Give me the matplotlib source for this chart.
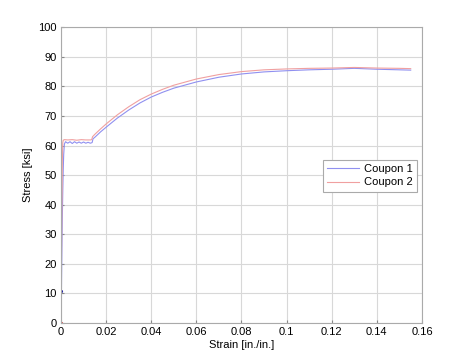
import matplotlib
matplotlib.use("Agg")
import matplotlib.pyplot as plt

# Coupon 1 (blue) strain / stress
strain_1 = [0.0, 0.0002, 0.0004, 0.0006, 0.0008, 0.0010, 0.0012, 0.0015, 0.0020,
            0.0030, 0.0040, 0.0050, 0.0060, 0.0070, 0.0080, 0.0090, 0.0100,
            0.0110, 0.0120, 0.0130, 0.0138, 0.0142, 0.0150, 0.0175, 0.0200,
            0.0250, 0.0300, 0.0350, 0.0400, 0.0450, 0.0500, 0.0600, 0.0700,
            0.0800, 0.0900, 0.1000, 0.1100, 0.1200, 0.1300, 0.1400, 0.1500, 0.1550]
stress_1 = [0.0, 11.0, 25.0, 36.0, 45.0, 52.0, 57.0, 60.5, 61.3,
            60.8, 61.3, 60.7, 61.3, 60.8, 61.2, 60.8, 61.2,
            60.8, 61.1, 60.8, 61.0, 62.3, 62.8, 64.6, 66.2,
            69.3, 72.0, 74.4, 76.4, 78.0, 79.4, 81.5, 83.1,
            84.2, 84.9, 85.3, 85.6, 85.8, 86.1, 85.8, 85.6, 85.5]

# Coupon 2 (red) strain / stress
strain_2 = [0.0, 0.0001, 0.0002, 0.0004, 0.0006, 0.0008, 0.0010, 0.0015, 0.0030,
            0.0050, 0.0070, 0.0090, 0.0110, 0.0130, 0.0136, 0.0140, 0.0150,
            0.0175, 0.0200, 0.0250, 0.0300, 0.0350, 0.0400, 0.0450, 0.0500,
            0.0600, 0.0700, 0.0800, 0.0900, 0.1000, 0.1100, 0.1200, 0.1300,
            0.1400, 0.1500, 0.1550]
stress_2 = [0.0, 6.0, 20.0, 40.0, 55.0, 61.0, 61.8, 62.0, 61.9,
            62.0, 61.8, 62.0, 61.9, 61.9, 62.0, 63.0, 63.8,
            65.6, 67.3, 70.4, 73.1, 75.5, 77.4, 79.0, 80.4,
            82.5, 84.0, 85.0, 85.6, 85.9, 86.1, 86.2, 86.4,
            86.2, 86.1, 86.0]

x_ticks = [0, 0.02, 0.04, 0.06, 0.08, 0.1, 0.12, 0.14, 0.16]
x_labels = ["0", "0.02", "0.04", "0.06", "0.08", "0.1", "0.12", "0.14", "0.16"]
y_ticks = list(range(0, 101, 10))

plt.rcParams["font.family"] = ["Liberation Sans", "DejaVu Sans"]

fig = plt.figure(figsize=(4.67, 3.63), dpi=100)
ax = fig.add_axes([0.1306, 0.110, 0.773, 0.815])

ax.plot(strain_1, stress_1, color="#9090f0", lw=0.8, label="Coupon 1")
ax.plot(strain_2, stress_2, color="#f0a0a0", lw=0.8, label="Coupon 2")
ax.plot([0.0002], [11.0], marker=".", color="#2020a0", ms=2.5)
ax.plot([0.0], [0.0], marker=".", color="#d02020", ms=2.5)

ax.set_xlim(0, 0.16)
ax.set_ylim(0, 100)
ax.set_xticks(x_ticks)
ax.set_xticklabels(x_labels)
ax.set_yticks(y_ticks)
ax.grid(True, color="#d8d8d8", lw=0.8)
ax.tick_params(labelsize=8, length=2, direction="in", color="#888888", pad=3)
for s in ax.spines.values():
    s.set_color("#aaaaaa")
    s.set_linewidth(0.8)

ax.set_xlabel("Strain [in./in.]", fontsize=8, labelpad=2)
ax.set_ylabel("Stress [ksi]", fontsize=8, labelpad=4)

leg = ax.legend(loc="center right", bbox_to_anchor=(0.986, 0.498), borderaxespad=0,
                fontsize=8, fancybox=False, framealpha=1, edgecolor="#aaaaaa",
                handlelength=2.9, handletextpad=0.4, borderpad=0.4, labelspacing=0.3)
leg.get_frame().set_linewidth(0.8)

fig.savefig("out.png", dpi=100)
